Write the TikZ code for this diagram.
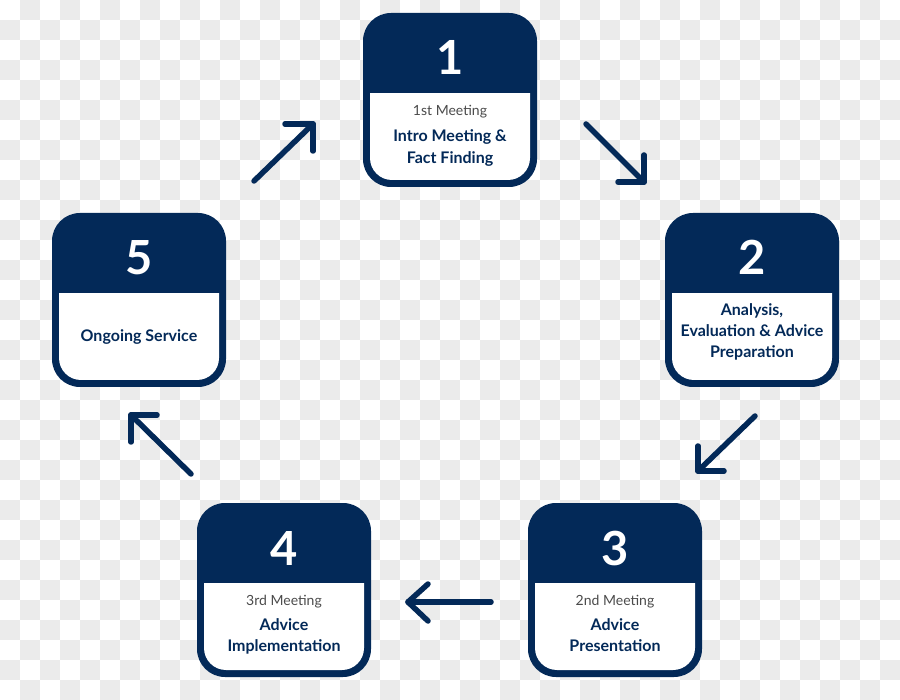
\documentclass[tikz,border=0pt]{standalone}
\usepackage{fontspec}
\setmainfont{Lato}
\definecolor{navy}{RGB}{3,41,88}
\definecolor{txtgray}{RGB}{75,75,75}
\definecolor{checker}{RGB}{235,235,235}
\tikzset{
  card/.style={rectangle, rounded corners=28pt, fill=navy, minimum width=174pt, minimum height=174pt, inner sep=0pt},
  numeral/.style={anchor=base, text=white, inner sep=0pt, font=\fontsize{47}{47}\selectfont\bfseries},
  subline/.style={anchor=base, text=txtgray, inner sep=0pt, font=\fontsize{14}{16}\selectfont},
  mainline/.style={anchor=base, text=navy, inner sep=0pt, font=\fontsize{16}{18}\selectfont\bfseries},
  flowarrow/.style={draw=navy, line width=5.5pt, line cap=round, line join=round}
}
\newcommand\stepcard[4]{%
  \node[card] (#1) at (#2,#3) {};
  \fill[white, rounded corners=22pt] (#2-80,#3-40) rectangle (#2+80,#3+80);
  \fill[navy] (#2-81,#3-41) rectangle (#2+81,#3-7);
  \node[numeral] (#1num) at (#2,#3-25) {#4};
}
\begin{document}
\begin{tikzpicture}[x=1pt,y=-1pt]
\useasboundingbox (0,0) rectangle (900,700);
\fill[white] (0,0) rectangle (900,700);
\foreach \i in {0,...,44}{
  \foreach \j in {0,...,34}{
    \pgfmathtruncatemacro\odd{mod(\i+\j,2)}
    \ifnum\odd=1 \fill[checker] (\i*20,\j*20) rectangle ++(20,20);\fi
  }
}
% cards
\stepcard{c1}{450}{100}{1}
\node[subline] (c1a) at (450,116) {1st Meeting};
\node[mainline] (c1b) at (450,142) {Intro Meeting \&};
\node[mainline] (c1c) at (450,164) {Fact Finding};

\stepcard{c2}{752}{300}{2}
\node[mainline] (c2a) at (752,316) {Analysis,};
\node[mainline] (c2b) at (752,337) {Evaluation \& Advice};
\node[mainline] (c2c) at (752,358) {Preparation};

\stepcard{c3}{615}{590}{3}
\node[subline] (c3a) at (615,605) {2nd Meeting};
\node[mainline] (c3b) at (615,630) {Advice};
\node[mainline] (c3c) at (615,651) {Presentation};

\stepcard{c4}{284}{590}{4}
\node[subline] (c4a) at (284,605) {3rd Meeting};
\node[mainline] (c4b) at (284,630) {Advice};
\node[mainline] (c4c) at (284,651) {Implementation};

\stepcard{c5}{139}{300}{5}
\node[mainline] (c5a) at (139,342) {Ongoing Service};

% arrows
\coordinate (a1t) at (254,181); \coordinate (a1h) at (313,124);
\coordinate (a1l) at (285,124); \coordinate (a1m) at (313,151);
\draw[flowarrow] (a1t) -- (a1h); \draw[flowarrow] (a1l) -- (a1h) -- (a1m);

\coordinate (a2t) at (586,124); \coordinate (a2h) at (644,182);
\coordinate (a2l) at (618,182); \coordinate (a2m) at (644,155);
\draw[flowarrow] (a2t) -- (a2h); \draw[flowarrow] (a2l) -- (a2h) -- (a2m);

\coordinate (a3t) at (755,416); \coordinate (a3h) at (698,471);
\coordinate (a3l) at (724,471); \coordinate (a3m) at (698,446);
\draw[flowarrow] (a3t) -- (a3h); \draw[flowarrow] (a3l) -- (a3h) -- (a3m);

\coordinate (a4t) at (491,602); \coordinate (a4h) at (408,602);
\coordinate (a4l) at (428,584); \coordinate (a4m) at (428,621);
\draw[flowarrow] (a4t) -- (a4h); \draw[flowarrow] (a4l) -- (a4h) -- (a4m);

\coordinate (a5t) at (191,474); \coordinate (a5h) at (131,415);
\coordinate (a5l) at (157,415); \coordinate (a5m) at (131,442);
\draw[flowarrow] (a5t) -- (a5h); \draw[flowarrow] (a5l) -- (a5h) -- (a5m);
\end{tikzpicture}
\end{document}
